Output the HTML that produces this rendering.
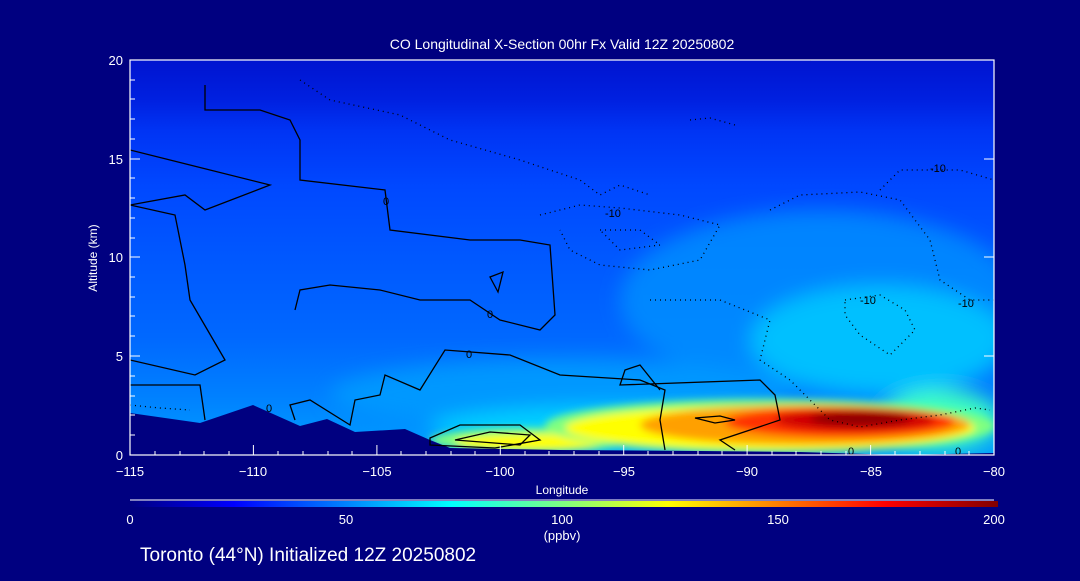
<!DOCTYPE html>
<html><head><meta charset="utf-8"><style>
html,body{margin:0;padding:0;background:#000080;}
body{width:1080px;height:576px;overflow:hidden;font-family:"Liberation Sans",sans-serif;}
</style></head><body>
<svg width="1080" height="576" xmlns="http://www.w3.org/2000/svg" font-family="Liberation Sans, sans-serif">
<defs>
<linearGradient id="bg" x1="0" y1="0" x2="0" y2="1">
<stop offset="0" stop-color="#0014d0"/>
<stop offset="0.1" stop-color="#0020e0"/>
<stop offset="0.18" stop-color="#0034f4"/>
<stop offset="0.32" stop-color="#0048ff"/>
<stop offset="0.5" stop-color="#0058ff"/>
<stop offset="0.7" stop-color="#0068ff"/>
<stop offset="0.85" stop-color="#0080ff"/>
<stop offset="1" stop-color="#00a0ff"/>
</linearGradient>
<filter id="bl" x="-30%" y="-100%" width="160%" height="300%"><feGaussianBlur stdDeviation="10"/></filter>
<filter id="bl2" x="-30%" y="-100%" width="160%" height="300%"><feGaussianBlur stdDeviation="4"/></filter>
<linearGradient id="cb" x1="0" y1="0" x2="1" y2="0">
<stop offset="0" stop-color="#000080"/><stop offset="0.12" stop-color="#0000ff"/><stop offset="0.37" stop-color="#00ffff"/><stop offset="0.5" stop-color="#80ff80"/><stop offset="0.62" stop-color="#ffff00"/><stop offset="0.87" stop-color="#ff0000"/><stop offset="1" stop-color="#800000"/>
</linearGradient>
<clipPath id="pc"><rect x="130" y="60" width="864" height="395"/></clipPath>
</defs>
<g clip-path="url(#pc)">
<rect x="130" y="60" width="864" height="395" fill="url(#bg)"/>
<g filter="url(#bl)">
<ellipse cx="820" cy="300" rx="200" ry="90" fill="#0090ff" opacity="0.8"/>
<ellipse cx="880" cy="340" rx="130" ry="55" fill="#00c0ff"/>
<ellipse cx="560" cy="395" rx="230" ry="35" fill="#0098ff"/>
<ellipse cx="620" cy="428" rx="190" ry="22" fill="#00d0ff"/>
<ellipse cx="940" cy="420" rx="60" ry="30" fill="#40ffc0"/>
</g>
<g filter="url(#bl2)">
<ellipse cx="530" cy="440" rx="100" ry="12" fill="#80ff80"/>
<ellipse cx="530" cy="442" rx="75" ry="8" fill="#ffff00"/>
<ellipse cx="770" cy="426" rx="225" ry="27" fill="#80ff80"/>
<ellipse cx="770" cy="428" rx="205" ry="22" fill="#ffff00"/>
<ellipse cx="805" cy="425" rx="165" ry="20" fill="#ffa000"/>
<ellipse cx="840" cy="422" rx="115" ry="15" fill="#ff3000"/>
<ellipse cx="855" cy="420" rx="80" ry="11" fill="#d00000"/>
<ellipse cx="860" cy="419" rx="50" ry="7" fill="#900000"/>
</g>
<polygon fill="#000080" points="130,413 200,423 253,405 300,426 327,419 355,432 405,429 430,440 450,448 560,450 700,451 800,452 900,455 994,453 994,460 130,460"/>
<g fill="none" stroke="#000" stroke-width="1.3">
<path d="M130,150 L190,165 L270,185 L205,210 L185,195 L130,205"/>
<path d="M130,205 L175,215 L185,265 L190,300 L225,360 L195,375 L130,360"/>
<path d="M130,385 L200,385 L205,420"/>
<path d="M295,420 L290,405 L310,400 L350,425 L355,400 L380,395 L385,375 L420,390 L445,350 L510,355 L560,375 L640,380 L665,390 L660,420 L665,450"/>
<path d="M295,310 L300,290 L330,285 L380,290 L420,300 L470,300 L500,320 L540,330 L555,315 L550,245 L520,240 L470,240 L390,230 L385,190 L300,180 L300,140 L290,120 L260,110 L205,110 L205,85"/>
<path d="M430,438 L460,425 L520,425 L540,440 L495,448 L430,445Z"/>
<path d="M455,440 L490,432 L530,435 L520,445Z"/>
<path d="M490,277 L503,272 L498,292Z"/>
<path d="M695,418 L720,416 L735,420 L715,423Z"/>
<path d="M735,450 L720,440 L780,420 L775,395 L760,380 L620,385 L625,370 L640,365 L660,390"/>
</g>
<g fill="none" stroke="#000" stroke-width="1.3" stroke-dasharray="1,4">
<path d="M300,80 L330,100 L400,115 L450,140 L520,160 L580,180 L600,195 L620,185 L650,195"/>
<path d="M540,215 L580,205 L620,208 L680,215 L720,225 L700,260 L650,270 L600,265 L570,250 L560,230"/>
<path d="M600,230 L640,230 L660,245 L620,250Z"/>
<path d="M650,300 L720,300 L770,320 L760,360 L790,380 L830,420 L860,427 L900,420 L940,415 L975,408 L990,410"/>
<path d="M845,300 L880,295 L905,310 L915,330 L890,355 L860,335 L845,315Z"/>
<path d="M770,210 L800,195 L860,192 L900,200 L930,240 L940,280 L970,300 L994,300"/>
<path d="M880,190 L900,170 L960,170 L994,180"/>
<path d="M690,120 L710,118 L735,125"/>
<path d="M810,60 L870,58"/>
<path d="M130,405 L160,408 L190,410"/>
</g>
<g font-size="11" fill="#000">
<text x="605" y="217">-10</text><text x="930" y="172">-10</text><text x="860" y="304">-10</text><text x="958" y="307">-10</text>
<text x="383" y="205">0</text><text x="487" y="318">0</text><text x="466" y="358">0</text><text x="266" y="412">0</text><text x="848" y="455">0</text><text x="955" y="455">0</text>
</g>
</g>
<g stroke="#fff" stroke-width="1.2" fill="none">
<rect x="130" y="60" width="864" height="395"/>
</g>
<g stroke="#fff" stroke-width="1">
<path d="M130,455v-10M253.4,455v-10M376.9,455v-10M500.3,455v-10M623.7,455v-10M747.1,455v-10M870.6,455v-10M994,455v-10"/>
<path d="M155,455v-4M180,455v-4M204,455v-4M229,455v-4M278,455v-4M303,455v-4M328,455v-4M352,455v-4M401,455v-4M426,455v-4M451,455v-4M475,455v-4M525,455v-4M549,455v-4M574,455v-4M599,455v-4M648,455v-4M673,455v-4M698,455v-4M722,455v-4M772,455v-4M796,455v-4M821,455v-4M846,455v-4M895,455v-4M920,455v-4M945,455v-4M969,455v-4"/>
<path d="M130,455h10M130,356h10M130,257h10M130,159h10M130,60h10M994,455h-10M994,356h-10M994,257h-10M994,159h-10M994,60h-10"/>
<path d="M130,435h5M130,415h5M130,396h5M130,376h5M130,336h5M130,316h5M130,297h5M130,277h5M130,238h5M130,218h5M130,198h5M130,178h5M130,139h5M130,119h5M130,99h5M130,80h5"/>
</g>
<g fill="#fff" font-size="13">
<text x="562" y="49" text-anchor="middle" font-size="14">CO Longitudinal X-Section 00hr  Fx Valid 12Z 20250802</text>
<text x="123" y="460" text-anchor="end">0</text>
<text x="123" y="361" text-anchor="end">5</text>
<text x="123" y="262" text-anchor="end">10</text>
<text x="123" y="164" text-anchor="end">15</text>
<text x="123" y="65" text-anchor="end">20</text>
<text x="130" y="476" text-anchor="middle">−115</text>
<text x="253" y="476" text-anchor="middle">−110</text>
<text x="377" y="476" text-anchor="middle">−105</text>
<text x="500" y="476" text-anchor="middle">−100</text>
<text x="624" y="476" text-anchor="middle">−95</text>
<text x="747" y="476" text-anchor="middle">−90</text>
<text x="871" y="476" text-anchor="middle">−85</text>
<text x="994" y="476" text-anchor="middle">−80</text>
<text x="562" y="494" text-anchor="middle" font-size="12">Longitude</text>
<text x="97" y="258" text-anchor="middle" font-size="12" transform="rotate(-90 97 258)">Altitude (km)</text>
<text x="130" y="524" text-anchor="middle">0</text>
<text x="346" y="524" text-anchor="middle">50</text>
<text x="562" y="524" text-anchor="middle">100</text>
<text x="562" y="540" text-anchor="middle">(ppbv)</text>
<text x="778" y="524" text-anchor="middle">150</text>
<text x="994" y="524" text-anchor="middle">200</text>
<text x="140" y="561" font-size="19">Toronto (44°N) Initialized 12Z 20250802</text>
</g>
<rect x="130" y="501" width="868" height="6" fill="url(#cb)"/>
<line x1="130" y1="500" x2="994" y2="500" stroke="#fff" stroke-width="1"/>
</svg>
</body></html>
